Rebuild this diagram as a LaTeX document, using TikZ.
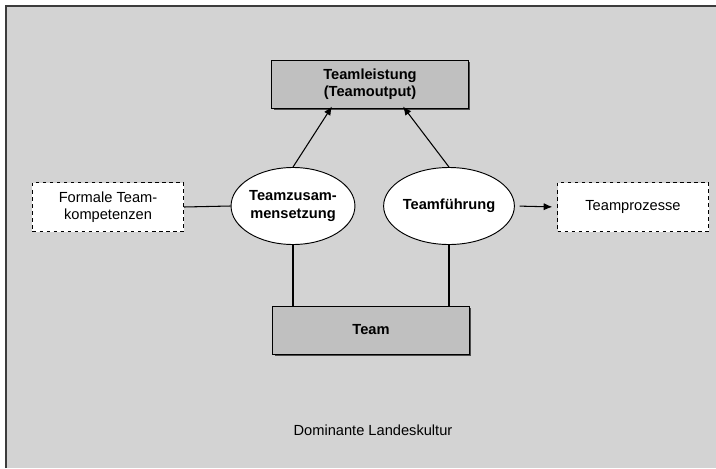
\documentclass[tikz,border=0pt]{standalone}
\usepackage{fontspec}
\setmainfont{Liberation Sans}
\usetikzlibrary{shadows,calc,arrows.meta,shapes.geometric}
\definecolor{bggray}{HTML}{D3D3D3}
\definecolor{boxgray}{HTML}{C0C0C0}
\definecolor{framegray}{HTML}{3C3C3C}
\tikzset{
  txt/.style={font=\fontsize{12.5}{15}\selectfont, align=center, inner sep=0pt},
  mainbox/.style={txt, font=\fontsize{12.5}{15}\selectfont\bfseries, draw, thick, fill=boxgray,
    minimum width=5.9cm, minimum height=1.44cm,
    general shadow={fill=black!70, shadow xshift=0.06cm, shadow yshift=-0.06cm}},
  factor/.style={txt, font=\fontsize{12.5}{15}\selectfont\bfseries, draw, thick, fill=white,
    ellipse, minimum width=3.7cm, minimum height=2.31cm},
  sidebox/.style={txt, draw, dashed, thick, fill=white, minimum width=4.53cm, minimum height=1.47cm},
  link/.style={line width=0.9pt},
  pfeil/.style={link, -{Latex[length=2.6mm,width=2.2mm]}}
}
\begin{document}
\begin{tikzpicture}[x=0.03cm,y=-0.03cm]
\useasboundingbox (0,0) rectangle (716,468);
\fill[white] (0,0) rectangle (716,468);
\fill[bggray] (6,6) rectangle (716,468);
\draw[framegray, line width=1.2pt] (6,468) -- (6,6) -- (716,6);
% Kernelemente
\node[mainbox] (leistung) at (370,84) {Teamleistung\\(Teamoutput)};
\node[mainbox] (team) at (371,330) {Team};
\node[factor] (zus) at (293,206) {Teamzusam-\\mensetzung};
\node[factor] (fuehr) at (449,206) {Teamführung};
\node[sidebox] (formal) at (108,207) {Formale Team-\\kompetenzen};
\node[sidebox] (prozesse) at (633,207) {Teamprozesse};
% Verbindungen
\draw[pfeil] (zus.north) -- ($(leistung.south)+(-38,-2)$);
\draw[pfeil] (fuehr.north) -- ($(leistung.south)+(33,-2)$);
\draw[link] (zus.south) -- (zus.south |- team.north);
\draw[link] (fuehr.south) -- (fuehr.south |- team.north);
\draw[link] (formal.east) -- (zus.west);
\draw[pfeil, shorten <=4pt, shorten >=4pt] (fuehr.east) -- (prozesse.west);
\node[txt] (kultur) at (373,430) {Dominante Landeskultur};
\end{tikzpicture}
\end{document}
